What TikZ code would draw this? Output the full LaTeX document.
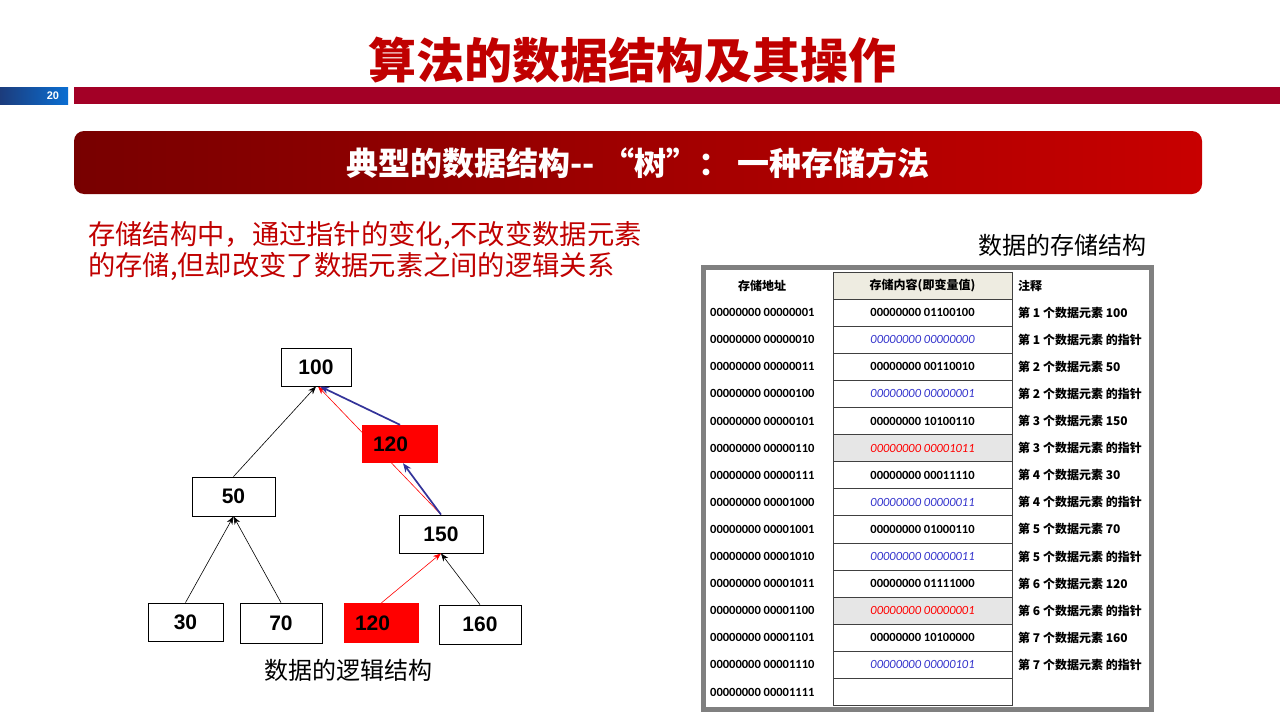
\documentclass[tikz,border=0pt]{standalone}
\usepackage{fontspec}
\setmainfont{Liberation Sans}
\newfontfamily\cjk{Noto Sans CJK SC}
\newfontfamily\calfont{Carlito}
\usetikzlibrary{arrows.meta,calc}
\newcommand\setfs[1]{\fontsize{#1}{#1}\selectfont}
\definecolor{titlered}{HTML}{C00000}
\definecolor{barred}{HTML}{A30026}
\definecolor{bandark}{HTML}{780000}
\definecolor{banred}{HTML}{C80000}
\definecolor{bluedark}{HTML}{1C3C7C}
\definecolor{bluelight}{HTML}{0A6ED2}
\definecolor{navy}{HTML}{333399}
\definecolor{ptrblue}{HTML}{3333CC}
\definecolor{hdrfill}{HTML}{EEECE1}
\definecolor{grayfill}{HTML}{E6E6E6}
\definecolor{framegray}{HTML}{808080}
\pgfdeclarelayer{bg}
\pgfsetlayers{bg,main}
\tikzset{
  tnode/.style={draw=black, line width=0.8pt, fill=white, inner sep=0pt,
    font=\bfseries\setfs{21}},
  rnode/.style={fill=red, inner sep=0pt, inner xsep=11pt, align=left,
    font=\bfseries\setfs{21}},
  arr/.style={-{Stealth[length=8pt,width=6pt]}, line width=0.6pt},
  barr/.style={-{Stealth[length=9pt,width=7pt]}, line width=1.7pt, draw=navy},
  addr/.style={anchor=west, inner sep=0pt, font=\calfont\bfseries\setfs{12.5}},
  cell/.style={draw=black!75, line width=0.7pt, minimum width=179pt,
    minimum height=27.1pt, inner sep=0pt, fill=white},
  val/.style={font=\calfont\bfseries\setfs{12.5}},
  ptr/.style={text=ptrblue, font=\calfont\itshape\setfs{12.5}},
  hot/.style={text=red, fill=grayfill, font=\calfont\itshape\setfs{12.5}},
  notetxt/.style={anchor=west, inner sep=0pt, font=\cjk\bfseries\setfs{12}},
}
\begin{document}
\begin{tikzpicture}[x=1pt,y=-1pt]
\useasboundingbox (0,0) rectangle (1280,720);
\begin{pgfonlayer}{bg}
\fill[white] (0,0) rectangle (1280,720);
\end{pgfonlayer}

% title
\node[text=titlered, font=\cjk\bfseries\setfs{48}] (title) at (632,60) {算法的数据结构及其操作};

% bars
\shade[left color=bluedark, right color=bluelight] (0,87) rectangle (68,104);
\node[text=white, font=\bfseries\setfs{11}] (pnum) at (53,95.5) {20};
\fill[barred] (74,87) rectangle (1280,104);

% banner
\shade[left color=bandark, right color=banred, rounded corners=10pt] (74,131) rectangle (1202,194);
\node[text=white, font=\cjk\bfseries\setfs{32}] (banner) at (638,163) {典型的数据结构-- “树”： 一种存储方法};

% paragraph
\node[anchor=west, text=titlered, font=\cjk\setfs{27.3}, inner sep=0pt] (p1) at (88,236) {存储结构中，通过指针的变化,不改变数据元素};
\node[anchor=west, text=titlered, font=\cjk\setfs{27.3}, inner sep=0pt] (p2) at (88,267) {的存储,但却改变了数据元素之间的逻辑关系};

% tree
\node[tnode, minimum width=70pt, minimum height=38pt] (n100) at (316,367) {100};
\node[rnode, text width=54pt, minimum height=38pt] (r120a) at (400,444) {120};
\node[tnode, minimum width=83pt, minimum height=39pt] (n50) at (233.5,496.5) {50};
\node[tnode, minimum width=84pt, minimum height=38pt] (n150) at (441,534) {150};
\node[tnode, minimum width=75pt, minimum height=38pt] (n30) at (185.5,622) {30};
\node[tnode, minimum width=82pt, minimum height=40pt] (n70) at (281,623) {70};
\node[rnode, text width=53pt, minimum height=40pt] (r120b) at (381.5,623) {120};
\node[tnode, minimum width=82pt, minimum height=39pt] (n160) at (480,624.5) {160};

\begin{pgfonlayer}{bg}
\draw[arr, draw=red] (n150.north) -- ($(n100.south)+(2,0)$);
\end{pgfonlayer}
\draw[arr] (n50.north) -- (n100.south);
\draw[arr] (n30.north) -- (n50.south);
\draw[arr] (n70.north) -- (n50.south);
\draw[arr, draw=red] (r120b.north) -- (n150.south);
\draw[arr] (n160.north) -- (n150.south);
\draw[barr] (n150.north) -- ($(r120a.south)+(3,0)$);
\draw[barr] (r120a.north) -- ($(n100.south)+(4,0)$);

\node[font=\cjk\setfs{24}] (cap1) at (348,670) {数据的逻辑结构};
\node[font=\cjk\setfs{24}] (cap2) at (1062,245) {数据的存储结构};

% table frame
\draw[framegray, line width=5pt] (703.5,267.5) rectangle (1151.5,709.5);

% header
\node[font=\cjk\bfseries\setfs{12}] (h1) at (762,285.5) {存储地址};
\node[cell, fill=hdrfill, font=\cjk\bfseries\setfs{12}] (h2) at (922.5,285.5) {存储内容(即变量值)};
\node[notetxt] (h3) at (1018,285.5) {注释};

\foreach \i/\a/\c/\t/\n in {
 1/00000001/01100100/val/{第 1 个数据元素 100},
 2/00000010/00000000/ptr/{第 1 个数据元素 的指针},
 3/00000011/00110010/val/{第 2 个数据元素 50},
 4/00000100/00000001/ptr/{第 2 个数据元素 的指针},
 5/00000101/10100110/val/{第 3 个数据元素 150},
 6/00000110/00001011/hot/{第 3 个数据元素 的指针},
 7/00000111/00011110/val/{第 4 个数据元素 30},
 8/00001000/00000011/ptr/{第 4 个数据元素 的指针},
 9/00001001/01000110/val/{第 5 个数据元素 70},
 10/00001010/00000011/ptr/{第 5 个数据元素 的指针},
 11/00001011/01111000/val/{第 6 个数据元素 120},
 12/00001100/00000001/hot/{第 6 个数据元素 的指针},
 13/00001101/10100000/val/{第 7 个数据元素 160},
 14/00001110/00000101/ptr/{第 7 个数据元素 的指针}}{
  \pgfmathsetmacro\yy{299+(\i-0.5)*27.1}
  \node[addr] (a\i) at (710,\yy) {00000000 \a};
  \node[cell,\t] (c\i) at (922.5,\yy) {00000000 \c};
  \node[notetxt] (m\i) at (1018,\yy) {\n};
}
\node[addr] (a15) at (710,692.25) {00000000 00001111};
\node[cell] (c15) at (922.5,692.25) {};
\end{tikzpicture}
\end{document}
